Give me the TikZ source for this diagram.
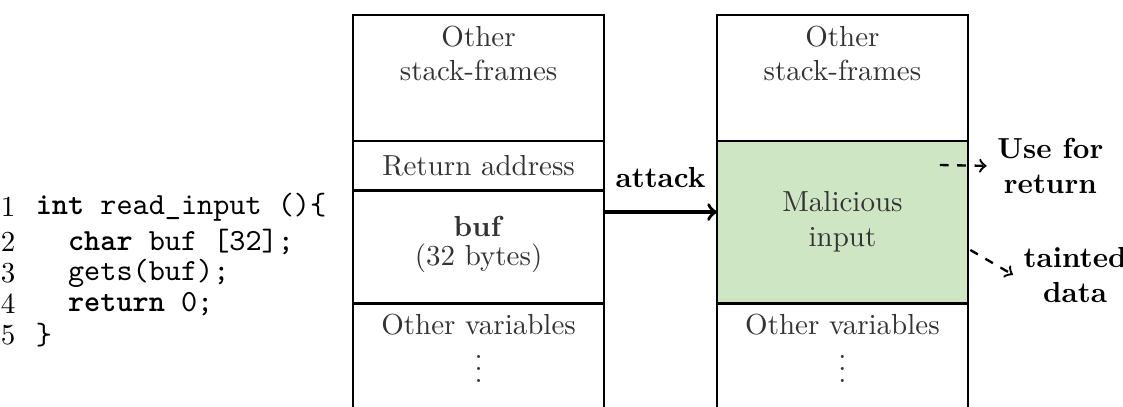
\documentclass[tikz,border=0pt]{standalone}
\usepackage{tikz}
\usepackage{xcolor}
\tikzset{>=to}
\definecolor{taintgreen}{HTML}{CFE6C4}
\tikzset{
  slot/.style={text=black!80, align=center},
  code/.style={anchor=west, font=\fontsize{10.6}{12}\ttfamily, inner sep=0pt},
  lineno/.style={anchor=east, inner sep=0pt},
  remark/.style={font=\bfseries, align=center}
}

\begin{document}
\begin{tikzpicture}[thick]
        \useasboundingbox (0,0) rectangle (13.61,4.93);
        % stack before the attack
        \draw (4.28,0) -- (4.28,4.75) -- (7.32,4.75) -- (7.32,0);
        \draw (4.28,3.22) -- (7.32,3.22) (4.28,2.62) -- (7.32,2.62) (4.28,1.25) -- (7.32,1.25);
        % stack after the attack
        \fill[taintgreen] (8.69,1.25) rectangle (11.73,3.22);
        \draw (8.69,0) -- (8.69,4.75) -- (11.73,4.75) -- (11.73,0);
        \draw (8.69,3.22) -- (11.73,3.22) (8.69,1.25) -- (11.73,1.25);
        % slot texts
        \node[slot, anchor=north] (framesL) at (5.80,4.75) {Other\\stack-frames};
        \node[slot] (retaddr) at (5.80,2.92) {Return address};
        \node[slot] (buf) at (5.80,1.97) {\textbf{buf}\\[-2pt](32 bytes)};
        \node[slot, anchor=north] (varsL) at (5.80,1.25) {Other variables\\$\vdots$};
        \node[slot, anchor=north] (framesR) at (10.21,4.75) {Other\\stack-frames};
        \node[slot] (malicious) at (10.21,2.24) {Malicious\\input};
        \node[slot, anchor=north] (varsR) at (10.21,1.25) {Other variables\\$\vdots$};
        % code listing
        \foreach \n/\y/\txt in {1/2.42/{\textbf{int} read\_input ()\{},
                                2/2.00/{\ \ \textbf{char} buf [32];},
                                3/1.62/{\ \ gets(buf);},
                                4/1.25/{\ \ \textbf{return} 0;},
                                5/0.87/{\}}} {
          \node[lineno] (ln\n) at (0.20,\y) {\n};
          \node[code] (code\n) at (0.42,\y) {\txt};
        }
        % attack and its effects
        \coordinate (attackfrom) at (7.32,2.36);
        \coordinate (attackto) at (8.69,2.36);
        \draw[->, very thick] (attackfrom) -- (attackto) node[midway, above=0.16cm, font=\bfseries] (attack) {attack};
        \coordinate (retfrom) at (11.39,2.93);
        \node[remark] (usereturn) at (12.73,2.92) {Use for\\return};
        \draw[->, dashed] (retfrom) -- (usereturn.west);
        \coordinate (taintfrom) at (11.76,1.90);
        \node[remark] (tainted) at (13.03,1.60) {tainted\\data};
        \draw[->, dashed] (taintfrom) -- (tainted.west);
      \end{tikzpicture}
\end{document}
